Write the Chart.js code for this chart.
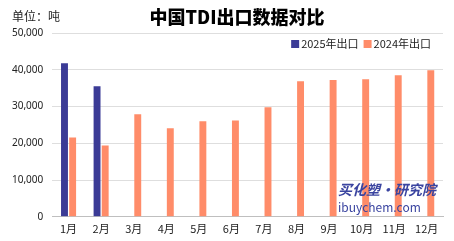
<!DOCTYPE html>
<html><head><meta charset="utf-8">
<script src="https://cdn.jsdelivr.net/npm/chart.js@4/dist/chart.umd.min.js"></script>
<style>html,body{margin:0;padding:0;background:#fff;}#wrap{width:454px;height:241px;}</style>
</head><body><div id="wrap"><canvas id="c"></canvas></div>
<script>
const categories = ['1月','2月','3月','4月','5月','6月','7月','8月','9月','10月','11月','12月'];
const exports2025 = [41800, 35500, null, null, null, null, null, null, null, null, null, null];
const exports2024 = [21600, 19400, 27900, 24100, 26000, 26200, 29800, 36900, 37200, 37400, 38500, 39900];
const yTicks = [0, 10000, 20000, 30000, 40000, 50000];
const seriesNames = ['2025年出口', '2024年出口'];
const seriesColors = ['#3b3b96', '#ff8c69'];
const titleText = '中国TDI出口数据对比';
const unitText = '单位：吨';

const FONT = '"Noto Sans CJK SC", "Noto Sans", sans-serif';

const deco = {
  id: 'deco',
  afterDraw(chart) {
    const ctx = chart.ctx;
    ctx.save();
    ctx.fillStyle = '#000';
    ctx.textBaseline = 'middle';
    ctx.font = '900 18px ' + FONT;
    ctx.textAlign = 'center';
    ctx.fillText(titleText, 237, 17);
    ctx.font = '12px ' + FONT;
    ctx.textAlign = 'left';
    ctx.fillStyle = '#222';
    ctx.fillText(unitText, 12, 16);
    // legend
    const ca = chart.chartArea;
    ctx.font = '11px ' + FONT;
    let x = ca.right - 12;
    const y = 44;
    const items = chart.data.datasets.map(d => ({ text: d.label, color: d.backgroundColor }));
    for (let i = items.length - 1; i >= 0; i--) {
      const w = ctx.measureText(items[i].text).width;
      x -= w;
      ctx.fillStyle = '#222';
      ctx.fillText(items[i].text, x, y);
      x -= 10;
      ctx.fillStyle = items[i].color;
      ctx.fillRect(x, y - 4, 8, 8);
      x -= 5;
    }
    // watermark
    ctx.font = 'italic bold 14px ' + FONT;
    ctx.fillStyle = '#3a44a0';
    ctx.fillText('买化塑·研究院', 338, 190);
    ctx.font = '12px ' + FONT;
    ctx.fillText('ibuychem.com', 338, 207);
    ctx.restore();
  }
};

new Chart(document.getElementById('c'), {
  type: 'bar',
  data: {
    labels: categories,
    datasets: [
      { label: seriesNames[0], data: exports2025, backgroundColor: seriesColors[0], borderWidth: 0 },
      { label: seriesNames[1], data: exports2024, backgroundColor: seriesColors[1], borderWidth: 0 }
    ]
  },
  options: {
    responsive: true,
    maintainAspectRatio: false,
    animation: false,
    devicePixelRatio: 1,
    datasets: { bar: { categoryPercentage: 0.5, barPercentage: 0.85 } },
    layout: { padding: { top: 33, right: 11, left: 3, bottom: 1 } },
    plugins: {
      title: { display: false },
      tooltip: { enabled: false },
      legend: { display: false }
    },
    scales: {
      x: {
        grid: { display: false, drawTicks: false },
        border: { display: true, color: '#bfbfbf' },
        ticks: { color: '#222', font: { size: 11, family: FONT }, padding: 5 }
      },
      y: {
        min: 0, max: 50000,
        afterBuildTicks(scale) { scale.ticks = yTicks.map(v => ({ value: v })); },
        grid: { color: '#dedede', drawTicks: false },
        border: { display: false },
        ticks: {
          color: '#222', font: { size: 10, family: '"Noto Sans", sans-serif' }, padding: 9,
          callback: v => v.toLocaleString('en-US')
        }
      }
    }
  },
  plugins: [deco]
});
</script></body></html>
